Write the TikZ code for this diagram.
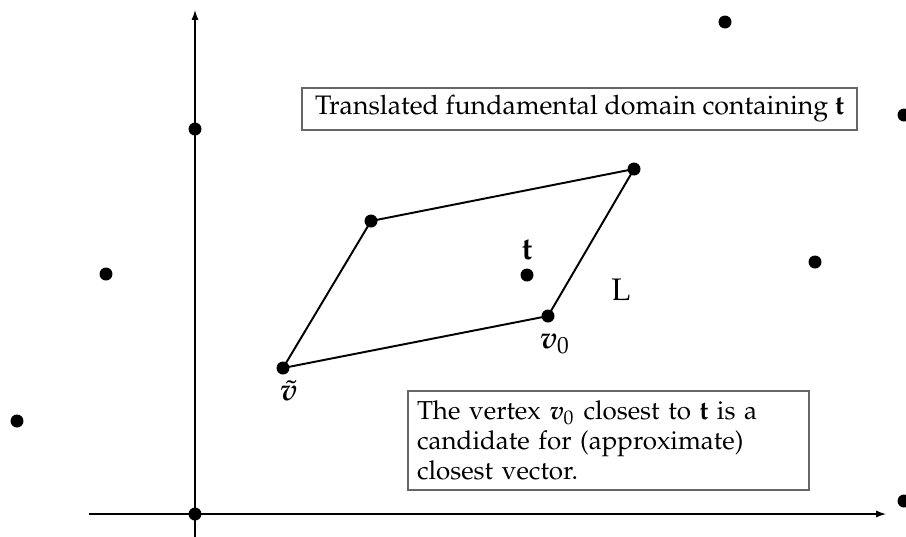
\documentclass[tikz,border=0pt]{standalone}
\usepackage[T1]{fontenc}
\usepackage{mathpazo}
\usepackage{bm}
\usetikzlibrary{arrows.meta}
\begin{document}
\begin{tikzpicture}[x=0.385pt,y=-0.385pt,
  dot/.style={circle,fill=black,inner sep=0pt,minimum size=5pt},
  lbl/.style={inner sep=0pt,font=\fontsize{12}{14}\selectfont},
  axis/.style={line width=0.5pt,-{Latex[length=3.8pt,width=2.7pt]}},
  edge/.style={line width=0.75pt},
  infobox/.style={draw=black!60,line width=0.5pt,font=\fontsize{10}{11.5}\selectfont}]
\useasboundingbox (0,0) rectangle (906,536);
% axes
\coordinate (ybot) at (195,540);
\coordinate (ytop) at (195,10);
\coordinate (xl) at (89,514);
\coordinate (xr) at (886,514);
\draw[axis] (ybot) -- (ytop);
\draw[axis] (xl) -- (xr);
% parallelogram
\node[dot] (vt) at (283,368) {};
\node[dot] (p2) at (371,221) {};
\node[dot] (p3) at (634,169) {};
\node[dot] (v0) at (548,316) {};
\draw[edge] (vt.center) -- (p2.center) -- (p3.center) -- (v0.center) -- cycle;
% other lattice points
\node[dot] (o) at (195,514) {};
\node[dot] (a1) at (195,129) {};
\node[dot] (a2) at (106,274) {};
\node[dot] (a3) at (17,421) {};
\node[dot] (a4) at (725,22) {};
\node[dot] (a5) at (904,115) {};
\node[dot] (a6) at (815,262) {};
\node[dot] (a7) at (904,501) {};
\node[dot] (t) at (527,275) {};
% labels
\node[lbl] (tl) at (527,250) {$\mathbf{t}$};
\node[lbl] (Ll) at (621,290) {L};
\node[lbl] (v0l) at (555,344) {$\bm{v}_0$};
\node[lbl] (vtl) at (289,391) {$\tilde{\bm{v}}$};
% boxes
\node[infobox,font=\fontsize{10.3}{12}\selectfont,inner sep=0pt,minimum width=555*0.385pt,minimum height=42*0.385pt] (b1) at (579.5,109) {Translated fundamental domain containing $\mathbf{t}$};
\node[infobox,inner xsep=9*0.385pt,inner ysep=0pt,minimum width=401*0.385pt,minimum height=99*0.385pt,align=left,text width=383*0.385pt] (b2) at (608.5,440.5) {The vertex $\bm{v}_0$ closest to $\mathbf{t}$ is a\\candidate for (approximate)\\closest vector.};
\end{tikzpicture}
\end{document}
